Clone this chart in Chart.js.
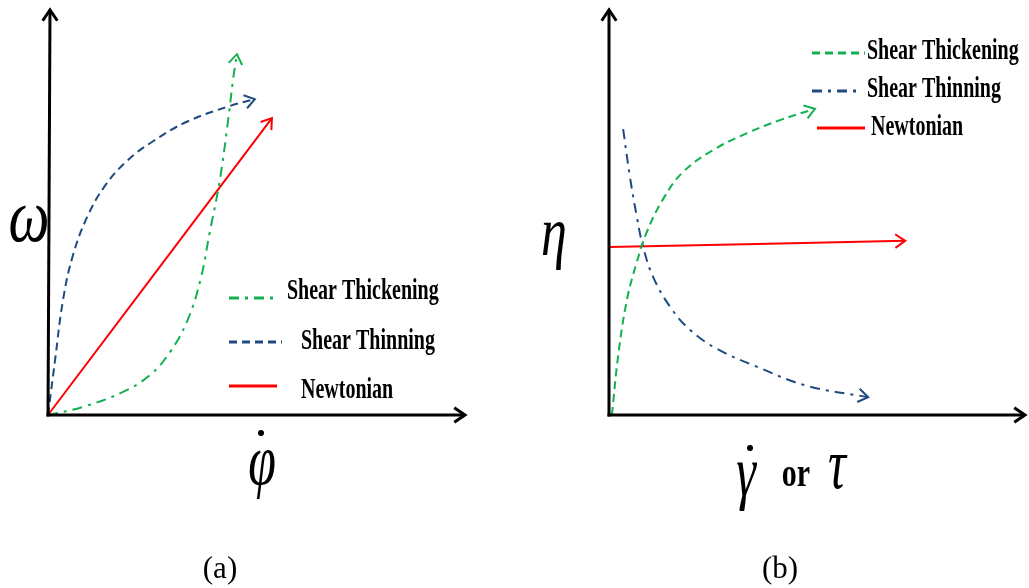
<!DOCTYPE html>
<html><head><meta charset="utf-8">
<script src="https://cdn.jsdelivr.net/npm/chart.js@4/dist/chart.umd.min.js"></script>
<style>
html,body{margin:0;padding:0;background:#fff;}
#wrap{position:relative;width:1029px;height:588px;overflow:hidden;}
canvas{position:absolute;top:0;}
</style></head><body>
<div id="wrap">
<canvas id="ca" width="514" height="588" style="left:0"></canvas>
<canvas id="cb" width="515" height="588" style="left:514px"></canvas>
</div>
<script>
// ---- data (arbitrary units, 0..100 on both axes) ----
const seriesNames = ['Shear Thickening','Shear Thinning','Newtonian'];
// panel (a): omega vs phi-dot
const aThickX = [0, 8.4, 18.0, 24.5, 29.3, 33.3, 36.5, 38.8, 41.2, 43.2, 44.4, 45.3];
const aThickY = [0, 2.0, 5.7, 9.9, 15.6, 23.0, 33.1, 45.2, 58.0, 72.8, 83.0, 89.1];
const aThinX  = [0, 1.7, 3.6, 6.0, 9.4, 13.6, 19.0, 25.2, 33.3, 43.6, 49.6];
const aThinY  = [0, 13.6, 28.4, 39.5, 48.9, 56.5, 62.8, 67.6, 72.4, 76.3, 78.0];
const aNewtX  = [0, 53.7];
const aNewtY  = [0, 73.3];
// panel (b): eta vs gamma-dot or tau
const bThickX = [0.7, 2.2, 4.3, 6.7, 9.1, 13.0, 17.8, 25.0, 33.2, 41.1, 49.5];
const bThickY = [0, 14.6, 28.4, 37.8, 45.2, 53.3, 60.0, 65.4, 69.6, 72.8, 75.6];
const bThinX  = [3.4, 5.0, 6.7, 8.2, 10.6, 14.7, 19.5, 26.0, 35.6, 47.6, 62.3];
const bThinY  = [70.6, 59.0, 48.9, 41.5, 34.1, 26.7, 21.0, 16.3, 11.9, 7.2, 4.4];
const bNewtX  = [0, 71.2];
const bNewtY  = [41.5, 43.0];

const GREEN = '#12b04e', BLUE = '#1f4a80', RED = '#ff0000';
const DASH = [8, 5], DASHDOT = [10, 6, 3, 6];

function pts(xs, ys){ return xs.map((v,i)=>({x:v, y:ys[i]})); }
function ds(label, xs, ys, color, dash){
  return {label, data:pts(xs,ys), borderColor:color, backgroundColor:color,
    borderDash:dash, borderWidth:2, pointRadius:0, showLine:true, tension:0.4, clip:false};
}

function stretchText(ctx, text, x, y, font, sy, align){
  ctx.save();
  ctx.font = font; ctx.fillStyle = '#000'; ctx.textAlign = align || 'left'; ctx.textBaseline = 'alphabetic';
  ctx.translate(x, y); ctx.scale(1, sy); ctx.fillText(text, 0, 0);
  ctx.restore();
}
function chevron(ctx, tx, ty, ang, len, half){
  ctx.beginPath();
  ctx.moveTo(tx - len*Math.cos(ang - half), ty - len*Math.sin(ang - half));
  ctx.lineTo(tx, ty);
  ctx.lineTo(tx - len*Math.cos(ang + half), ty - len*Math.sin(ang + half));
  ctx.stroke();
}

const overlay = {
  id:'overlay',
  afterDatasetsDraw(chart, args, o){
    const ctx = chart.ctx, xs = chart.scales.x, ys = chart.scales.y;
    ctx.save();
    ctx.lineCap = 'butt'; ctx.lineJoin = 'miter';
    // axes
    const ox = xs.getPixelForValue(0), oy = ys.getPixelForValue(0);
    const tx = xs.getPixelForValue(100), ty = ys.getPixelForValue(100);
    ctx.strokeStyle = '#000'; ctx.lineWidth = 3; ctx.setLineDash([]);
    ctx.beginPath(); ctx.moveTo(ox, oy + 1.5); ctx.lineTo(ox + o.tilt, ty); ctx.stroke();
    ctx.beginPath(); ctx.moveTo(ox - 1.5, oy); ctx.lineTo(tx, oy); ctx.stroke();
    chevron(ctx, ox + o.tilt, ty, -Math.PI/2, 13, 0.6);
    chevron(ctx, tx, oy, 0, 13, 0.6);
    // arrowheads at series ends
    chart.data.datasets.forEach((d, i) => {
      const meta = chart.getDatasetMeta(i);
      const n = meta.data.length;
      const p = meta.data[n-1];
      let px = meta.data[n-2].x, py = meta.data[n-2].y;
      if (n > 2 && p.cp1x !== undefined) { px = p.cp1x; py = p.cp1y; }
      const ang = Math.atan2(p.y - py, p.x - px);
      ctx.strokeStyle = d.borderColor; ctx.lineWidth = 2; ctx.setLineDash([]);
      chevron(ctx, p.x, p.y, ang, 12, 0.6);
    });
    // legend
    o.legend.forEach((L) => {
      const d = chart.data.datasets[L.i];
      ctx.strokeStyle = d.borderColor; ctx.lineWidth = 3; ctx.setLineDash(d.borderDash);
      ctx.beginPath(); ctx.moveTo(L.x0, L.ly); ctx.lineTo(L.x1, L.ly); ctx.stroke();
      ctx.setLineDash([]);
      stretchText(ctx, d.label, L.tx, L.ty, 'bold 20px "Liberation Serif"', 1.45);
    });
    // labels
    o.labels.forEach((t) => stretchText(ctx, t.s, t.x, t.y, t.f, t.sy, t.a));
    o.dots.forEach((q) => { ctx.fillStyle = '#000'; ctx.beginPath(); ctx.arc(q[0], q[1], 3, 0, Math.PI*2); ctx.fill(); });
    ctx.restore();
  }
};

function make(id, datasets, pad, tilt, legend, labels, dots){
  return new Chart(document.getElementById(id), {
    type:'scatter',
    data:{datasets},
    options:{
      responsive:false, animation:false, devicePixelRatio:1,
      layout:{padding:pad},
      scales:{x:{type:'linear', min:0, max:100, display:false}, y:{type:'linear', min:0, max:100, display:false}},
      plugins:{legend:{display:false}, tooltip:{enabled:false}, overlay:{tilt, legend, labels, dots}}
    },
    plugins:[overlay]
  });
}

make('ca', [
  ds(seriesNames[0], aThickX, aThickY, GREEN, DASHDOT),
  ds(seriesNames[1], aThinX, aThinY, BLUE, DASH),
  ds(seriesNames[2], aNewtX, aNewtY, RED, [])
], {left:48, right:49, top:10, bottom:173}, 2, [
  {i:0, x0:229, x1:273, ly:298, tx:287, ty:299},
  {i:1, x0:229, x1:282, ly:342, tx:301, ty:349},
  {i:2, x0:229, x1:277, ly:386, tx:301, ty:398}
], [
  {s:'\u03C9', x:29, y:241, f:'italic 58px "Liberation Serif"', sy:1.3, a:'center'},
  {s:'\u03C6', x:262, y:484, f:'italic 50px "Liberation Serif"', sy:1.45, a:'center'},
  {s:'(a)', x:220, y:578, f:'31px "Liberation Serif"', sy:1, a:'center'}
], [[261, 433]]);

make('cb', [
  ds(seriesNames[0], bThickX, bThickY, GREEN, DASH),
  ds(seriesNames[1], bThinX, bThinY, BLUE, DASHDOT),
  ds(seriesNames[2], bNewtX, bNewtY, RED, [])
], {left:95, right:4, top:10, bottom:173}, 0, [
  {i:0, x0:812-514, x1:865-514, ly:53, tx:867-514, ty:59},
  {i:1, x0:812-514, x1:857-514, ly:91, tx:867-514, ty:97},
  {i:2, x0:817-514, x1:865-514, ly:128, tx:871-514, ty:135}
], [
  {s:'\u03B7', x:554-514, y:255, f:'italic 52px "Liberation Serif"', sy:1.35, a:'center'},
  {s:'\u03B3', x:746-514, y:496, f:'italic 50px "Liberation Serif"', sy:1.45, a:'center'},
  {s:'or', x:796-514, y:486, f:'bold 30px "Liberation Serif"', sy:1.3, a:'center'},
  {s:'\u03C4', x:837-514, y:488, f:'italic 50px "Liberation Serif"', sy:1.45, a:'center'},
  {s:'(b)', x:780-514, y:578, f:'31px "Liberation Serif"', sy:1, a:'center'}
], [[750-514, 448]]);
</script>
</body></html>
